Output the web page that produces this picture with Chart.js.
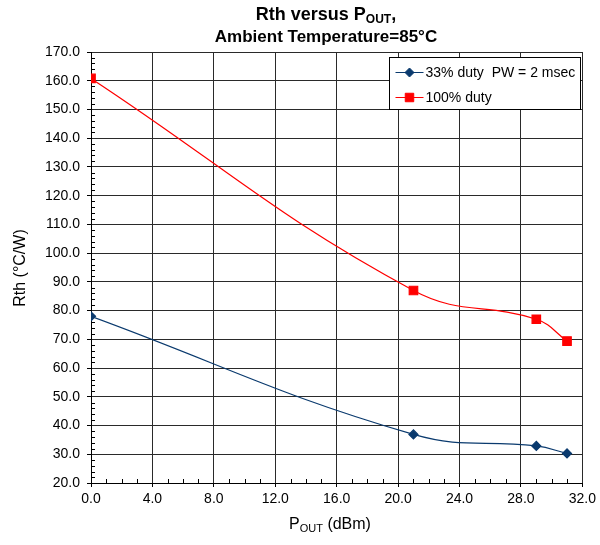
<!DOCTYPE html>
<html lang="en">
  <head>
    <meta charset="UTF-8" />
    <title>Rth versus POUT</title>
    <script src="https://cdn.jsdelivr.net/npm/chart.js@4/dist/chart.umd.min.js"></script>
    <style>
      html, body { margin: 0; padding: 0; background: #fff; }
      #wrap { width: 600px; height: 545px; position: relative; }
    </style>
  </head>
  <body>
    <div id="wrap"><canvas id="myChart" width="600" height="545"></canvas></div>
    <script>
      // datos
      var pout = [0, 21, 29, 31];
      var duty33 = [78, 36.9, 32.9, 30.3];
      var duty100 = [160.8, 87, 77, 69.4];
      var nombres = ["33% duty  PW = 2 msec", "100% duty"];
      var xTicks = [0, 4, 8, 12, 16, 20, 24, 28, 32];
      var yTicks = [20, 30, 40, 50, 60, 70, 80, 90, 100, 110, 120, 130, 140, 150, 160, 170];

      var FONT = "'Liberation Sans', Arial, sans-serif";

      function aPuntos(xs, ys) {
        var data = [];
        for (var i = 0; i < xs.length; i++) data.push({ x: xs[i], y: ys[i] });
        return data;
      }

      // dibuja texto con subindice, centrado en cx
      function textoPartes(ctx, partes, cx, y) {
        var total = 0;
        partes.forEach(function (p) { ctx.font = p.font; total += ctx.measureText(p.t).width; });
        var x = cx - total / 2;
        ctx.textAlign = "left";
        ctx.textBaseline = "alphabetic";
        partes.forEach(function (p) {
          ctx.font = p.font;
          ctx.fillText(p.t, x, y + (p.dy || 0));
          x += ctx.measureText(p.t).width;
        });
      }

      // rayitas menores en los ejes
      var menores = {
        id: "menores",
        beforeDatasetsDraw: function (chart) {
          var ctx = chart.ctx, a = chart.chartArea;
          var sx = chart.scales.x, sy = chart.scales.y;
          ctx.save();
          ctx.strokeStyle = "#000";
          ctx.lineWidth = 1;
          ctx.beginPath();
          for (var v = 22; v < 170; v += 2) {
            if (v % 10 === 0) continue;
            var py = Math.round(sy.getPixelForValue(v)) + 0.5;
            ctx.moveTo(a.left, py);
            ctx.lineTo(a.left + 4, py);
          }
          for (var u = 1; u < 32; u++) {
            if (u % 4 === 0) continue;
            var px = Math.round(sx.getPixelForValue(u)) + 0.5;
            ctx.moveTo(px, a.bottom);
            ctx.lineTo(px, a.bottom - 4);
          }
          ctx.stroke();
          ctx.restore();
        },
      };

      // titulos y leyenda
      var textos = {
        id: "textos",
        afterDraw: function (chart) {
          var ctx = chart.ctx;
          ctx.save();
          ctx.fillStyle = "#000";
          textoPartes(ctx, [
            { t: "Rth versus P", font: "bold 18px " + FONT },
            { t: "OUT", font: "bold 12px " + FONT, dy: 3 },
            { t: ",", font: "bold 18px " + FONT },
          ], 326, 20);
          textoPartes(ctx, [{ t: "Ambient Temperature=85\u00b0C", font: "bold 17px " + FONT }], 326, 42);
          textoPartes(ctx, [
            { t: "P", font: "16px " + FONT },
            { t: "OUT", font: "11px " + FONT, dy: 3 },
            { t: " (dBm)", font: "16px " + FONT },
          ], 330, 529);
          ctx.translate(25, 268);
          ctx.rotate(-Math.PI / 2);
          textoPartes(ctx, [{ t: "Rth (\u00b0C/W)", font: "16px " + FONT }], 0, 0);
          ctx.restore();

          // leyenda
          var lx = 389.5, ly = 57.5, lw = 191, lh = 52;
          ctx.save();
          ctx.fillStyle = "#fff";
          ctx.fillRect(lx, ly, lw, lh);
          ctx.strokeStyle = "#000";
          ctx.lineWidth = 1;
          ctx.strokeRect(lx, ly, lw, lh);
          chart.data.datasets.forEach(function (ds, i) {
            var cy = ly + 15 + i * 25;
            ctx.strokeStyle = ds.borderColor;
            ctx.fillStyle = ds.backgroundColor;
            ctx.lineWidth = 1;
            ctx.beginPath();
            ctx.moveTo(lx + 6, cy);
            ctx.lineTo(lx + 34, cy);
            ctx.stroke();
            Chart.helpers.drawPoint(ctx, {
              pointStyle: ds.pointStyle,
              radius: ds.pointRadius,
              borderWidth: 1,
            }, lx + 20, cy);
            ctx.fillStyle = "#000";
            ctx.font = "14px " + FONT;
            ctx.textAlign = "left";
            ctx.textBaseline = "middle";
            ctx.fillText(ds.label, lx + 36, cy + 1);
          });
          ctx.restore();
        },
      };

      var grafica = new Chart(document.getElementById("myChart"), {
        type: "line",
        data: {
          datasets: [
            {
              label: nombres[0],
              data: aPuntos(pout, duty33),
              borderColor: "#0a3a6e",
              backgroundColor: "#0a3a6e",
              borderWidth: 1.2,
              pointStyle: "rectRot",
              pointRadius: 4.5,
              tension: 0.42,
            },
            {
              label: nombres[1],
              data: aPuntos(pout, duty100),
              borderColor: "#ff0000",
              backgroundColor: "#ff0000",
              borderWidth: 1.2,
              pointStyle: "rect",
              pointRadius: 6,
              tension: 0.42,
            },
          ],
        },
        options: {
          responsive: false,
          animation: false,
          layout: { padding: { left: 0, top: 52, right: 16, bottom: 0 } },
          plugins: {
            legend: { display: false },
            title: { display: false },
            tooltip: { enabled: false },
          },
          scales: {
            x: {
              type: "linear",
              min: 0,
              max: 32,
              afterFit: function (s) { s.height = 62; },
              afterBuildTicks: function (s) { s.ticks = xTicks.map(function (v) { return { value: v }; }); },
              ticks: {
                color: "#000",
                font: { family: FONT, size: 14 },
                padding: 4,
                maxRotation: 0,
                callback: function (v) { return v.toFixed(1); },
              },
              grid: { color: "#2a2a2a", lineWidth: 1, tickLength: 4, tickColor: "#000" },
              border: { color: "#000", width: 1 },
            },
            y: {
              min: 20,
              max: 170,
              afterFit: function (s) { s.width = 91; },
              afterBuildTicks: function (s) { s.ticks = yTicks.map(function (v) { return { value: v }; }); },
              ticks: {
                color: "#000",
                font: { family: FONT, size: 14 },
                padding: 7,
                callback: function (v) { return v.toFixed(1); },
              },
              grid: { color: "#2a2a2a", lineWidth: 1, tickLength: 4, tickColor: "#000" },
              border: { color: "#000", width: 1 },
            },
          },
        },
        plugins: [menores, textos],
      });
    </script>
  </body>
</html>
